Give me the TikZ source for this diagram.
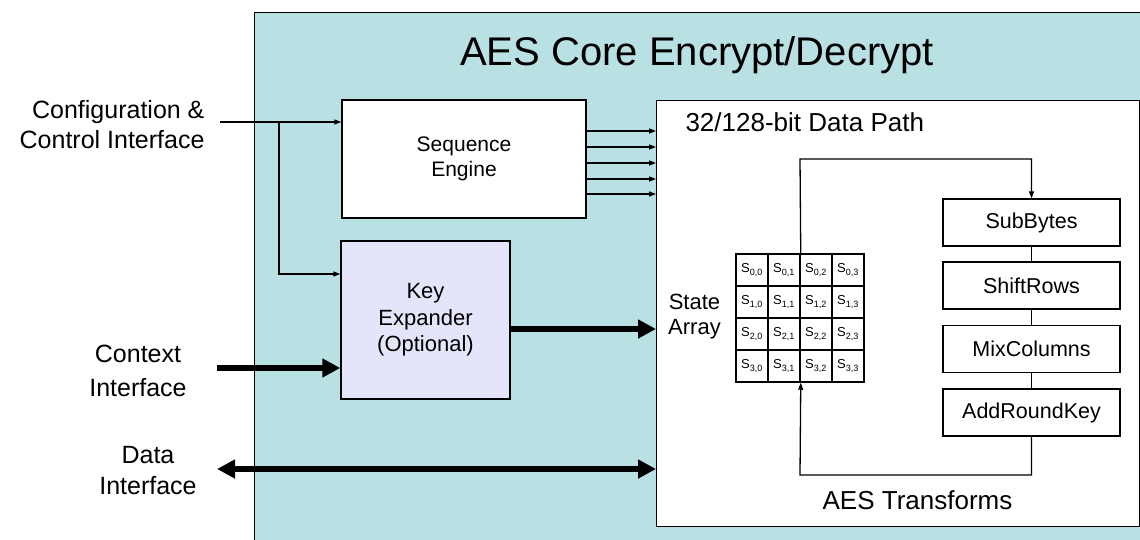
\documentclass[tikz,border=0pt]{standalone}
\usepackage{fontspec}
\setmainfont{Liberation Sans}
\usetikzlibrary{arrows.meta}
\newcommand\fsz[2]{\fontsize{#1}{#2}\selectfont}
\definecolor{coreteal}{RGB}{185,224,226}
\definecolor{lav}{RGB}{228,228,250}
\tikzset{
  box/.style={draw, line width=1.4pt, fill=white, inner sep=0pt, align=center},
  thin/.style={line width=1.3pt},
  arr/.style={thin, -{Triangle[length=7pt,width=5pt]}},
  fat/.style={line width=6pt, -{Triangle[length=18pt,width=18pt]}},
  fatboth/.style={line width=6pt, {Triangle[length=18pt,width=18pt]}-{Triangle[length=18pt,width=18pt]}},
  cell/.style={draw, line width=1.5pt, minimum size=32pt, inner sep=0pt, font=\fsz{13}{15}},
  tbox/.style={box, minimum width=177pt, minimum height=47pt, font=\fsz{21.5}{26}},
}
\begin{document}
\begin{tikzpicture}[x=1pt,y=-1pt]
\useasboundingbox (0,0) rectangle (1140,540);
\clip (0,0) rectangle (1140,540);
% outer core
\node[draw, line width=1.4pt, fill=coreteal, anchor=north west, minimum width=920pt, minimum height=560pt, inner sep=0pt] (core) at (254,12) {};
\node[anchor=base, font=\fsz{40}{48}] (title) at (697,66) {AES Core Encrypt/Decrypt};
% blocks
\node[box, minimum width=244pt, minimum height=118pt, font=\fsz{21}{25}] (se) at (464,159) {Sequence\\Engine};
\node[box, fill=lav, minimum width=169pt, minimum height=158pt, font=\fsz{22}{26.5}] (kx) at (425.5,320) {Key\\Expander\\(Optional)};
\node[box, anchor=north west, minimum width=483pt, minimum height=426pt] (dp) at (656,100) {};
\node[anchor=base west, font=\fsz{26}{30}] (dpl) at (682,132) {32/128-bit Data Path};
\node[align=center, font=\fsz{22}{25}] (sa) at (694.5,317) {State\\Array};
% state grid
\foreach \r in {0,...,3}{
  \foreach \c in {0,...,3}{
    \node[cell] (c\r\c) at ({752+32*\c},{270+32*\r}) {S\textsubscript{\r,\c}};
  }
}
% transforms
\node[tbox] (sb) at (1031.5,222.5) {SubBytes};
\node[tbox] (sr) at (1031.5,285.5) {ShiftRows};
\node[tbox] (mc) at (1031.5,349) {MixColumns};
\node[tbox] (ark) at (1031.5,412.5) {AddRoundKey};
\node[anchor=base, font=\fsz{26}{30}] (aest) at (917.5,509) {AES Transforms};
\draw[thin] (sb.south) -- (sr.north);
\draw[thin] (sr.south) -- (mc.north);
\draw[thin] (mc.south) -- (ark.north);
\coordinate (lt) at (800,159);
\coordinate (lb) at (800,475);
\draw[arr] (c01.north east) -- (lt) -| (sb.north);
\draw[arr] (ark.south) |- (lb) -- (c31.south east);
% external labels
\node[align=right, anchor=east, font=\fsz{25}{30.5}] (cfg) at (208,124.6) {Configuration \&\\Control Interface};
\node[align=center, font=\fsz{25}{34}] (ctx) at (138,371) {Context\\Interface};
\node[align=center, font=\fsz{25}{31}] (dat) at (148,471) {Data\\Interface};
% helper coordinates
\coordinate (cfgS) at (220,122);
\coordinate (cfgB) at (279,122);
\coordinate (kyB) at (0,274);
\coordinate (ctxS) at (217,368);
\coordinate (datS) at (217,469);
\coordinate (kxO) at (0,329);
% config arrows
\draw[arr] (cfgS) -- (se.west |- cfgS);
\draw[arr] (cfgB) |- (kx.west |- kyB);
% sequence engine control lines
\foreach \yy [count=\i] in {131,147,163,179,194}{
  \coordinate (sq\i) at (0,\yy);
  \draw[arr] (se.east |- sq\i) -- (dp.west |- sq\i);
}
% thick buses
\draw[fat] (ctxS) -- (kx.west |- ctxS);
\draw[fat] (kx.east |- kxO) -- (dp.west |- kxO);
\draw[fatboth] (datS) -- (dp.west |- datS);
\end{tikzpicture}
\end{document}
